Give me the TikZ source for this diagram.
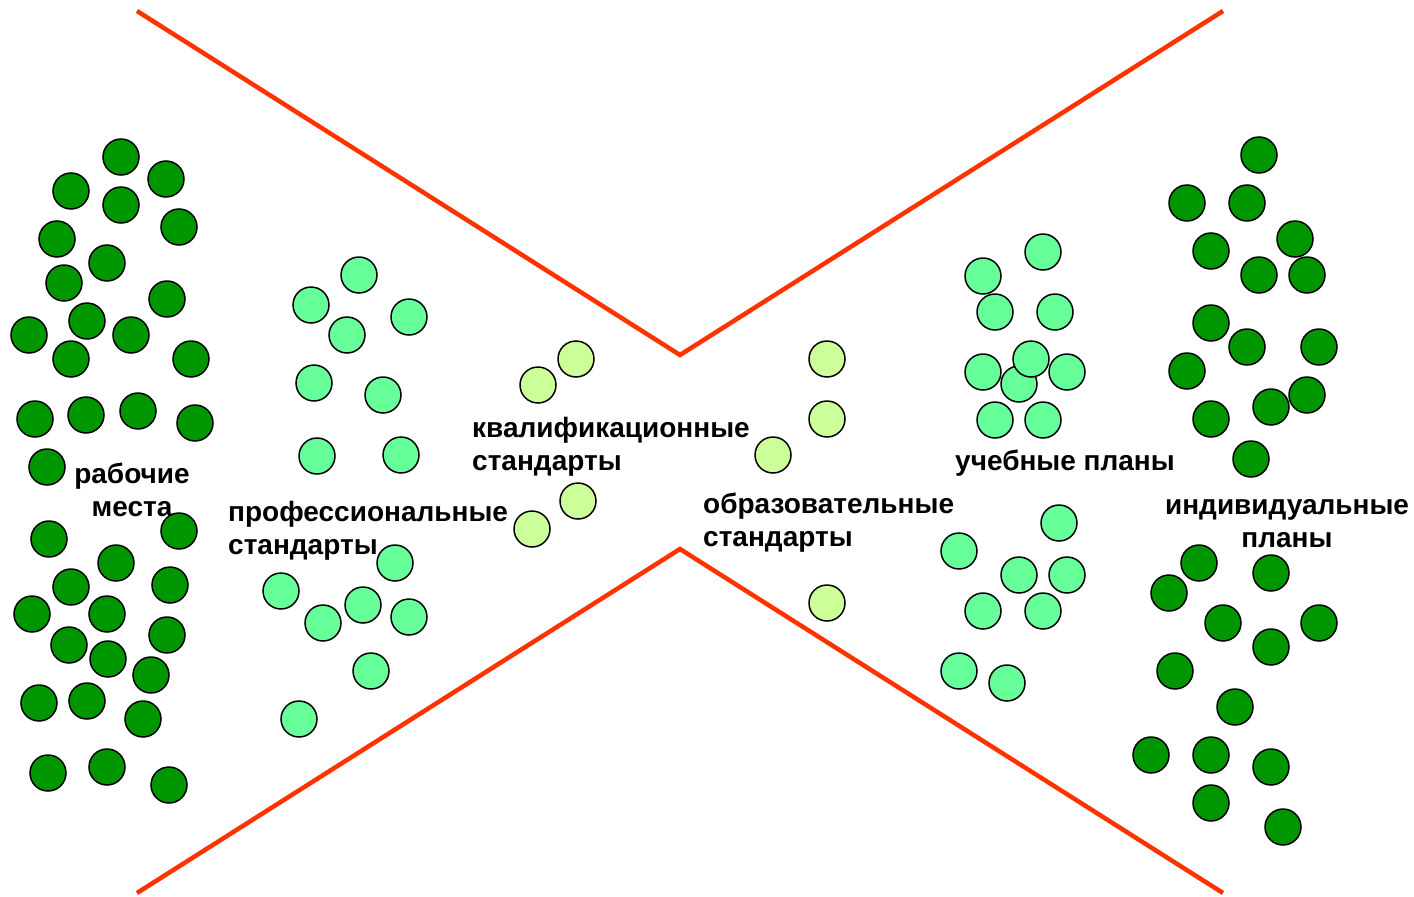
\documentclass[tikz,border=0pt]{standalone}
\usepackage{fontspec}
\setmainfont{Liberation Sans}[BoldFont={Liberation Sans Bold}]
\definecolor{dkg}{RGB}{0,150,0}
\definecolor{ltg}{RGB}{102,255,153}
\definecolor{pale}{RGB}{204,255,153}
\definecolor{redl}{RGB}{255,51,0}
\tikzset{
  ball/.style={circle,draw=black,line width=1.5pt,minimum size=36pt,inner sep=0pt},
  dball/.style={ball,fill=dkg},
  lball/.style={ball,fill=ltg},
  pball/.style={ball,fill=pale},
  lbl/.style={font=\fontsize{28}{33}\selectfont\bfseries,inner sep=0pt},
  redline/.style={draw=redl,line width=4.5pt}
}
\begin{document}
\begin{tikzpicture}[x=1pt,y=-1pt]
\useasboundingbox (0,0) rectangle (1414,897);
% red lines
\coordinate (tl) at (137,11);
\coordinate (tm) at (680,355);
\coordinate (tr) at (1223,11);
\coordinate (bl) at (137,893);
\coordinate (bm) at (680,549);
\coordinate (br) at (1223,893);
\draw[redline] (tl) -- (tm) -- (tr);
\draw[redline] (bl) -- (bm) -- (br);
% labels
\node[lbl,align=center] (t1) at (132,490) {рабочие\\места};
\node[lbl,align=left,anchor=west] (t2) at (228,531) {профессиональные\\стандарты};
\node[lbl,align=left,anchor=west] (t3) at (472,447) {квалификационные\\стандарты};
\node[lbl,align=left,anchor=west] (t4) at (703,523) {образовательные\\стандарты};
\node[lbl,anchor=west] (t5) at (955,463) {учебные планы};
\node[lbl,align=center] (t6) at (1287,524) {индивидуальные\\планы};
% dark green left
\foreach \p [count=\i] in {(121,157),(166,179),(71,191),(121,205),(179,227),(57,239),(107,263),(64,283),(167,299),(87,321),(29,335),(131,335),(71,359),(191,359),(35,419),(86,415),(138,411),(195,423),(47,467),(179,531),(49,539),(116,563),(71,587),(170,585),(32,614),(107,614),(167,635),(69,645),(108,659),(151,675),(39,703),(87,701),(143,719),(48,773),(107,767),(169,785)}
  \node[dball] (dl\i) at \p {};
% light green professional
\foreach \p [count=\i] in {(359,275),(311,305),(409,317),(347,335),(314,383),(383,395),(317,456),(401,455),(395,563),(281,591),(363,605),(323,623),(409,617),(371,671),(299,719)}
  \node[lball] (lp\i) at \p {};
% pale
\foreach \p [count=\i] in {(576,359),(538,385),(578,501),(532,529),(827,359),(827,419),(773,455),(827,603)}
  \node[pball] (pq\i) at \p {};
% light green curricula
\foreach \p [count=\i] in {(1043,252),(983,276),(995,312),(1055,312),(983,372),(1019,384),(1031,359),(1067,372),(995,420),(1043,420),(1059,523),(959,551),(1019,575),(1067,575),(983,611),(1043,611),(959,671),(1007,683)}
  \node[lball] (lc\i) at \p {};
% dark green right
\foreach \p [count=\i] in {(1259,155),(1187,203),(1247,203),(1295,239),(1211,251),(1259,275),(1307,275),(1211,323),(1247,347),(1319,347),(1187,371),(1307,395),(1271,407),(1211,419),(1251,459),(1199,563),(1169,593),(1271,573),(1223,623),(1319,623),(1271,647),(1175,671),(1235,707),(1151,755),(1211,755),(1271,767),(1211,803),(1283,827)}
  \node[dball] (dr\i) at \p {};
\end{tikzpicture}
\end{document}
